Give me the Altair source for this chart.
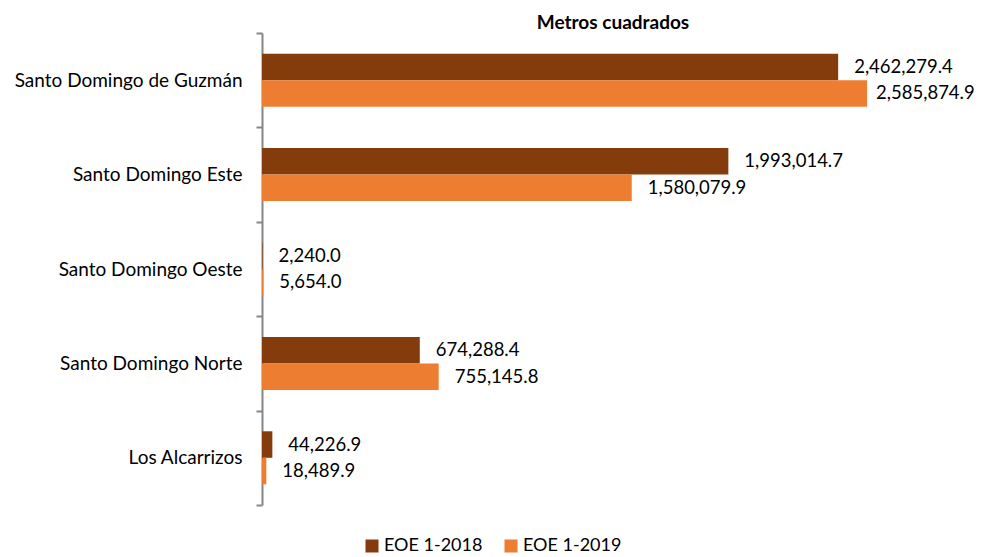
import altair as alt
import pandas as pd

municipios = ["Santo Domingo de Guzmán", "Santo Domingo Este", "Santo Domingo Oeste",
              "Santo Domingo Norte", "Los Alcarrizos"]
series = ["EOE 1-2018", "EOE 1-2019"]
v2018 = [2462279.4, 1993014.7, 2240.0, 674288.4, 44226.9]
v2019 = [2585874.9, 1580079.9, 5654.0, 755145.8, 18489.9]
colors = ["#843C0C", "#ED7D31"]

rows = []
for i, m in enumerate(municipios):
    rows.append({"municipio": m, "serie": series[0], "valor": v2018[i]})
    rows.append({"municipio": m, "serie": series[1], "valor": v2019[i]})
df = pd.DataFrame(rows)

FONT = "Lato"
VMAX = max(v2018 + v2019)

y_enc = alt.Y("municipio:N", sort=municipios,
              scale=alt.Scale(paddingInner=0, paddingOuter=0),
              axis=alt.Axis(title=None, labelFont=FONT, labelFontSize=19, labelColor="#000000",
                            domainColor="#868686", domainWidth=2, tickColor="#868686",
                            tickWidth=2, tickSize=6, tickBand="extent", labelPadding=14,
                            minExtent=254, maxExtent=254, labelLimit=300))
x_enc = alt.X("valor:Q", scale=alt.Scale(domain=[0, 3000000], nice=False), axis=None)

base = alt.Chart(df).encode(
    y=y_enc,
    x=x_enc,
    yOffset=alt.YOffset("serie:N", sort=series,
                        scale=alt.Scale(paddingInner=0, paddingOuter=0.78)),
)

bars = base.mark_bar().encode(
    color=alt.Color("serie:N", sort=series,
                    scale=alt.Scale(domain=series, range=colors),
                    legend=alt.Legend(title=None, orient="none", direction="horizontal",
                                      legendX=101, legendY=504,
                                      symbolType="square", symbolSize=169, symbolStrokeWidth=0,
                                      labelFont=FONT, labelFontSize=18, labelColor="#000000",
                                      columnPadding=19, labelOffset=3))
)

text_kw = dict(align="left", baseline="middle", font=FONT, fontSize=18.5, color="#000000")

labels = base.mark_text(dx=16, **text_kw).encode(
    text=alt.Text("valor:Q", format=",.1f")
).transform_filter(alt.datum.valor < VMAX)

label_max = base.mark_text(dx=9, **text_kw).encode(
    text=alt.Text("valor:Q", format=",.1f")
).transform_filter(alt.datum.valor >= VMAX)

chart = (bars + labels + label_max).properties(
    width=702, height=472,
    padding={"left": 0, "top": 6, "right": 0, "bottom": 0},
    title=alt.Title("Metros cuadrados", font=FONT, fontSize=19, fontWeight="bold",
                    color="#000000", anchor="middle", offset=-9),
).configure_view(stroke=None)

chart.save("out.html", embed_options={"renderer": "svg", "actions": False})
